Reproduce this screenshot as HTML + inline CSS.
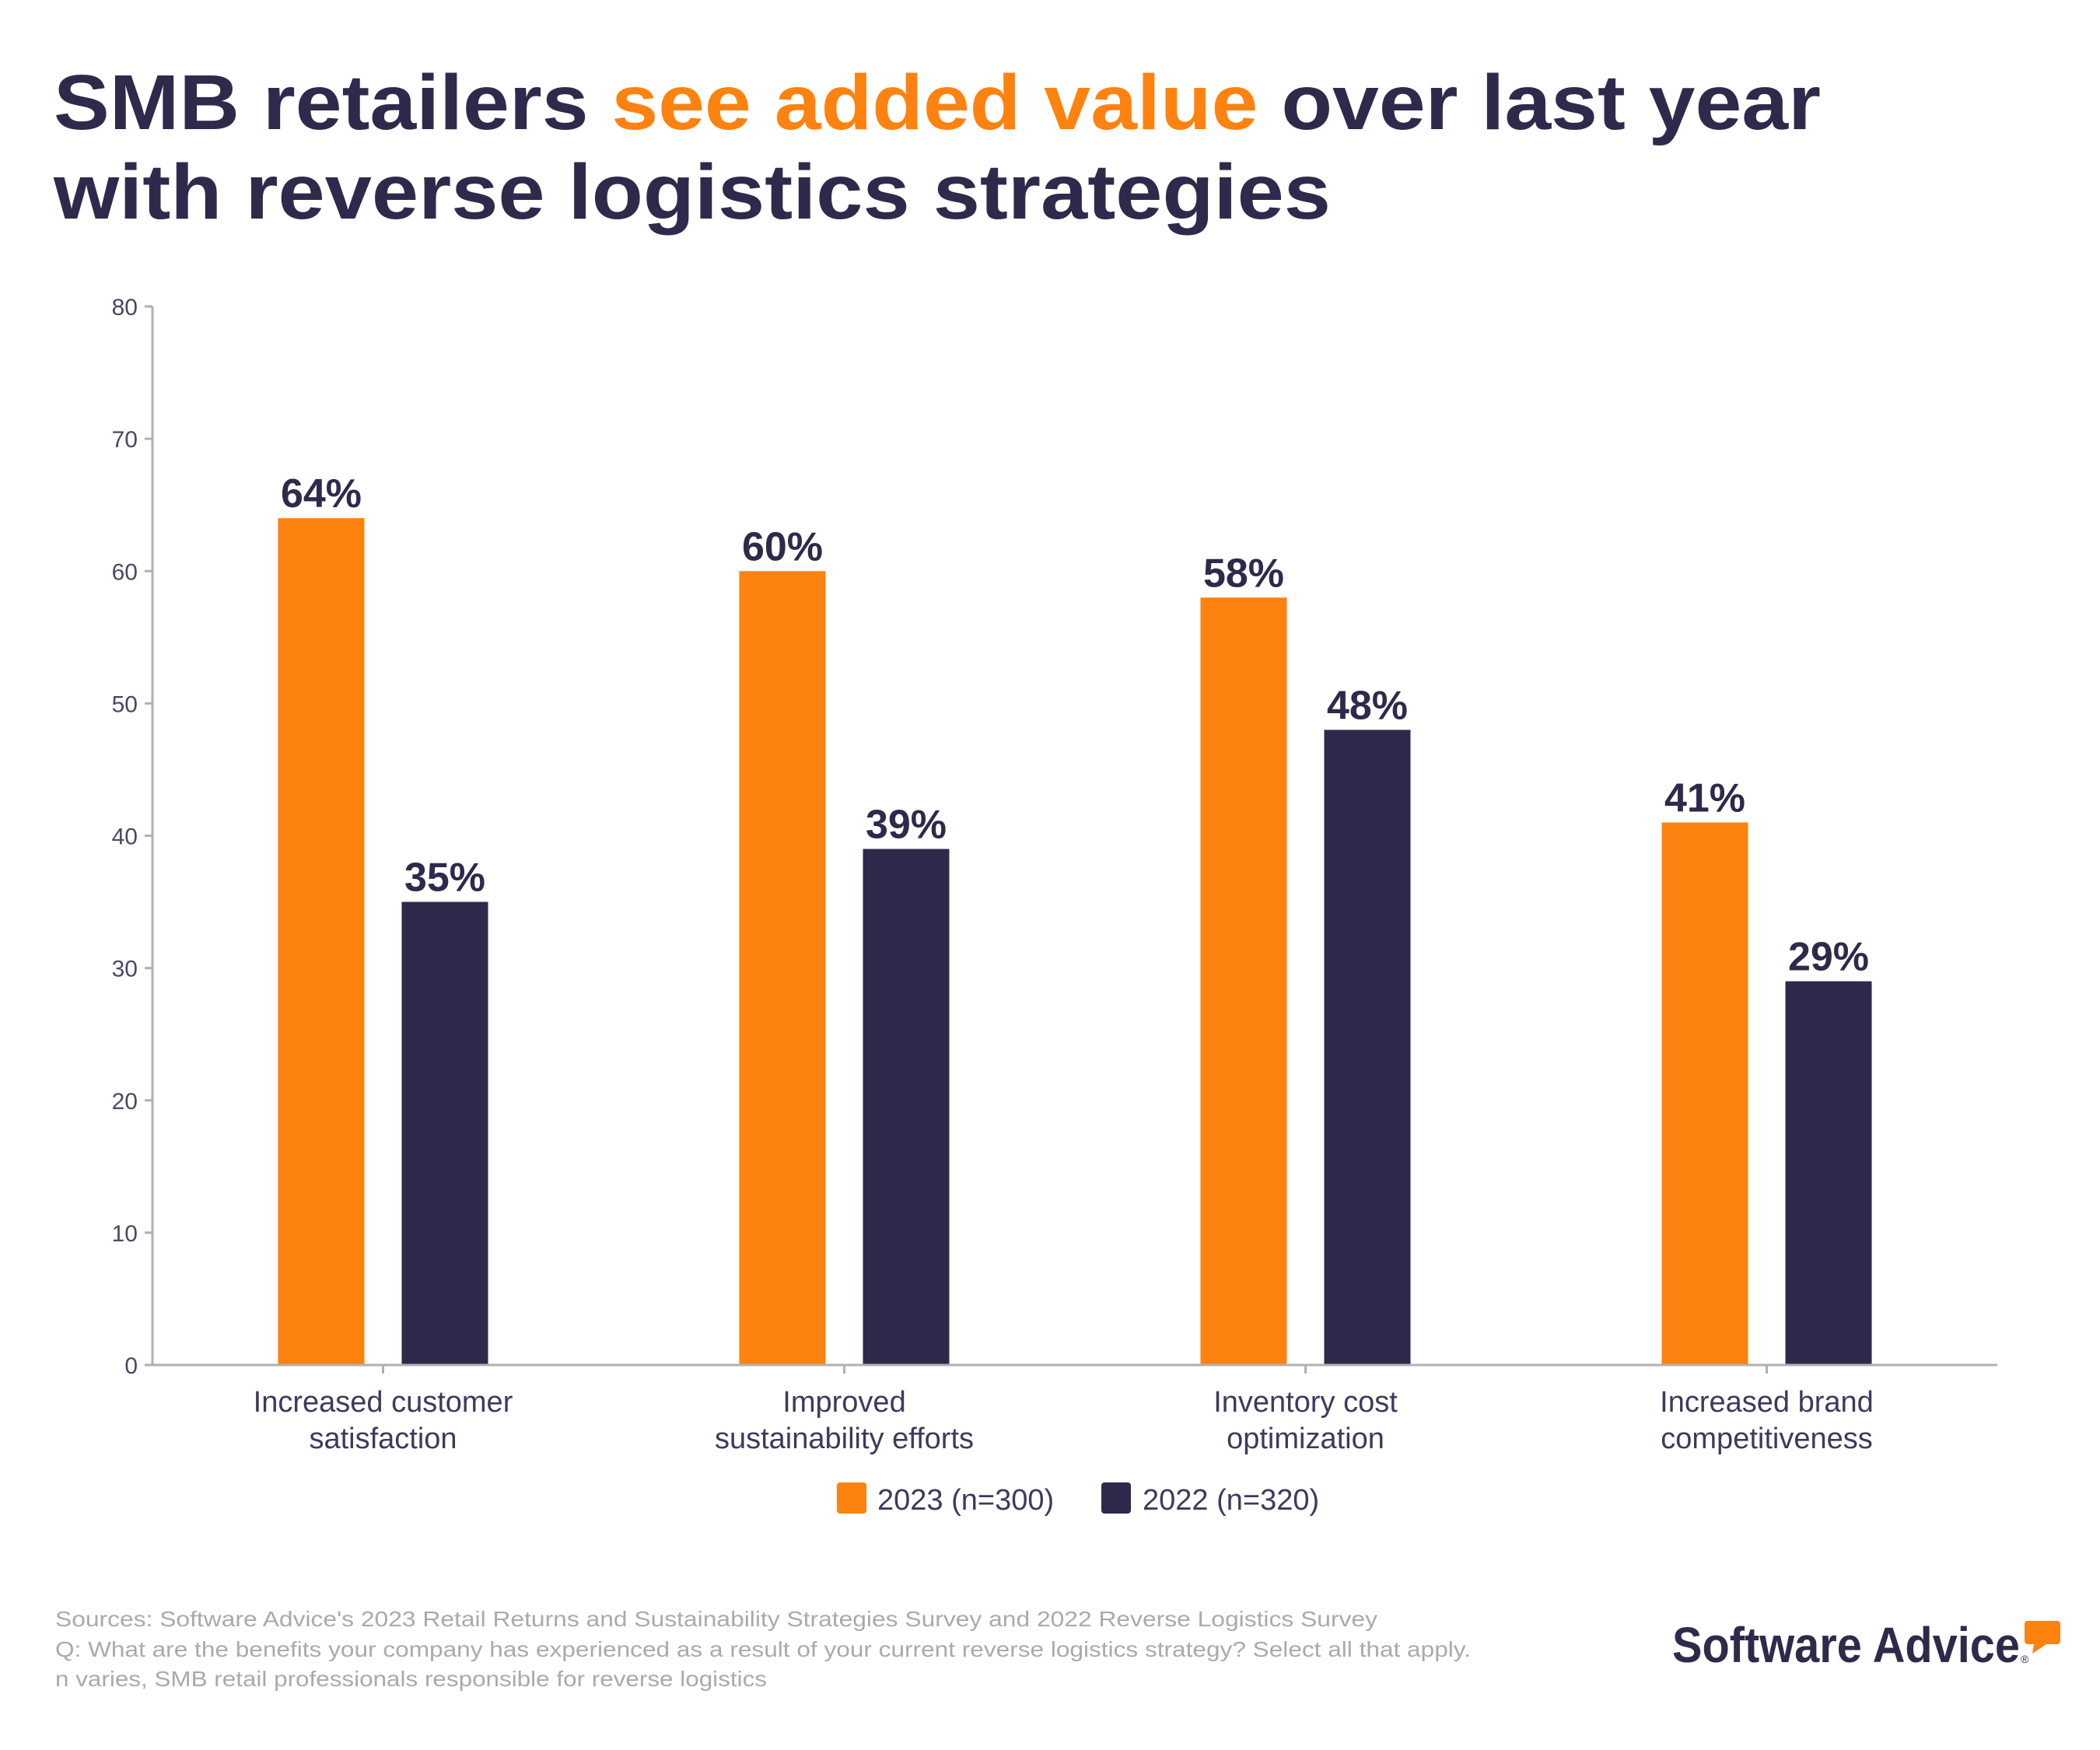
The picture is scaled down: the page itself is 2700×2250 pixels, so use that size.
<!DOCTYPE html>
<html><head><meta charset="utf-8"><style>
html,body{margin:0;padding:0;background:#fff;}
svg{display:block;}
</style></head><body>
<svg id="chart" width="2700" height="2250" viewBox="0 0 2700 2250" xmlns="http://www.w3.org/2000/svg" font-family="Liberation Sans, sans-serif">
<g>
<text x="69" y="166" font-size="100" font-weight="bold" fill="#2d2a4b" textLength="2272" lengthAdjust="spacingAndGlyphs">SMB retailers <tspan fill="#fd8210">see added value</tspan> over last year</text>
<text x="69" y="281" font-size="100" font-weight="bold" fill="#2d2a4b" textLength="1642" lengthAdjust="spacingAndGlyphs">with reverse logistics strategies</text>
</g>
<g id="plot"></g>
<g>
<rect x="1076" y="1906" width="38" height="40" rx="4" fill="#fd8210"/>
<text x="1128" y="1941" font-size="38" fill="#3d3a5c">2023 (n=300)</text>
<rect x="1416" y="1906" width="38" height="40" rx="4" fill="#2d2a4b"/>
<text x="1469" y="1941" font-size="38" fill="#3d3a5c">2022 (n=320)</text>
</g>
<g font-size="28" fill="#aaaaaa">
<text x="71" y="2091" textLength="1700" lengthAdjust="spacingAndGlyphs">Sources: Software Advice's 2023 Retail Returns and Sustainability Strategies Survey and 2022 Reverse Logistics Survey</text>
<text x="71" y="2130" textLength="1820" lengthAdjust="spacingAndGlyphs">Q: What are the benefits your company has experienced as a result of your current reverse logistics strategy? Select all that apply.</text>
<text x="71" y="2168" textLength="915" lengthAdjust="spacingAndGlyphs">n varies, SMB retail professionals responsible for reverse logistics</text>
</g>
<g>
<text x="2150" y="2137" font-size="64" font-weight="bold" fill="#2d2a4b" textLength="447" lengthAdjust="spacingAndGlyphs">Software Advice</text>
<text x="2598" y="2138" font-size="14" fill="#2d2a4b">®</text>
<path d="M2607 2084 h38 a4 4 0 0 1 4 4 v22 a4 4 0 0 1 -4 4 h-14 l-18 12 l2 -12 h-8 a4 4 0 0 1 -4 -4 v-22 a4 4 0 0 1 4 -4z" fill="#fd8210"/>
</g>
</svg>
<script>
const categories = [["Increased customer","satisfaction"],["Improved","sustainability efforts"],["Inventory cost","optimization"],["Increased brand","competitiveness"]];
const values2023 = [64, 60, 58, 41];
const values2022 = [35, 39, 48, 29];
const yTicks = [0,10,20,30,40,50,60,70,80];

const NS = "http://www.w3.org/2000/svg";
const plot = document.getElementById('plot');
const X0 = 196, X1 = 2568, Y0 = 1755, Y80 = 394;
const yScale = v => Y0 - (v / 80) * (Y0 - Y80);
const groupW = (X1 - X0) / categories.length;
const xCenter = i => X0 + groupW * (i + 0.5);
function mk(tag, attrs){const e=document.createElementNS(NS,tag);for(const k in attrs)e.setAttribute(k,attrs[k]);return e;}

yTicks.forEach(t=>{
  const y=yScale(t);
  const tk=mk('line',{x1:X0-10,x2:X0,y1:y,y2:y,stroke:'#b0b0b0','stroke-width':3});
  
  
  plot.appendChild(tk);
  const lb=mk('text',{x:X0-19,y:y+11,'font-size':30,fill:'#4a4766','text-anchor':'end'});
  
  
  lb.textContent=t;plot.appendChild(lb);
});
const ya=mk('line',{x1:X0,x2:X0,y1:Y80,y2:Y0,stroke:'#b0b0b0','stroke-width':3});


plot.appendChild(ya);

categories.forEach((c,i)=>{
  const cx=xCenter(i);
  [[values2023[i],'#fd8210',cx-135,'bar-2023'],[values2022[i],'#2d2a4b',cx+24,'bar-2022']].forEach(([v,col,x,nm])=>{
    const r=mk('rect',{x:x,y:yScale(v),width:111,height:Y0-yScale(v),fill:col});
    
    
    plot.appendChild(r);
    const t=mk('text',{x:x+55.5,y:yScale(v)-14,'font-size':52,'font-weight':'bold',fill:'#2d2a4b','text-anchor':'middle'});
    
    
    t.textContent=v+'%';plot.appendChild(t);
  });
  const tk=mk('line',{x1:cx,x2:cx,y1:Y0,y2:Y0+11,stroke:'#b0b0b0','stroke-width':3});
  
  
  plot.appendChild(tk);
  c.forEach((line,j)=>{
    const t=mk('text',{x:cx,y:1815+j*47,'font-size':38,fill:'#3d3a5c','text-anchor':'middle'});
    
    
    t.textContent=line;plot.appendChild(t);
  });
});
const xa=mk('line',{x1:X0-10,x2:X1,y1:Y0,y2:Y0,stroke:'#b0b0b0','stroke-width':3});


plot.appendChild(xa);
</script>
</body></html>
